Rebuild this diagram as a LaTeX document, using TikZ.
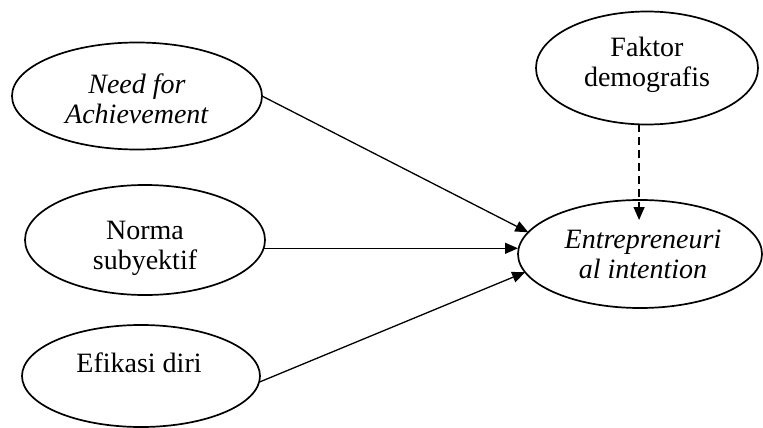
\documentclass[tikz,border=0pt]{standalone}
\usepackage{fontspec}
\setmainfont{Liberation Serif}
\usetikzlibrary{arrows.meta,shapes.geometric}
\tikzset{
  ell/.style={draw=black, line width=1.7pt, ellipse, inner sep=0pt, outer sep=0pt},
  lbl/.style={align=center, inner sep=0pt, font=\fontsize{28}{30}\selectfont},
  conn/.style={line width=1.3pt, -{Triangle[length=13pt,width=11pt]}},
}
\begin{document}
\begin{tikzpicture}[x=1pt,y=-1pt]
\useasboundingbox (0,0) rectangle (763,428);
\node[ell, minimum width=250pt, minimum height=107pt] (na) at (137,96) {};
\node[lbl] (nat) at (137,99) {\textit{Need for}\\\textit{Achievement}};
\node[ell, minimum width=240pt, minimum height=110pt] (ns) at (145,240) {};
\node[lbl] (nst) at (145,248) {Norma\\subyektif};
\node[ell, minimum width=238pt, minimum height=102pt] (ed) at (141,376) {};
\node[lbl] (edt) at (139,363) {Efikasi diri};
\node[ell, minimum width=222pt, minimum height=113pt] (fd) at (647,68) {};
\node[lbl] (fdt) at (647,65) {Faktor\\demografis};
\node[ell, minimum width=244pt, minimum height=108pt] (ei) at (640,254) {};
\node[lbl] (eit) at (643,254) {\textit{Entrepreneuri}\\\textit{al intention}};
\draw[conn] (na.east) -- (ei.169);
\draw[conn] (ns.-4) -- (ns.-4 -| ei.west);
\draw[conn] (ed.-3) -- (ei.189);
\draw[conn, dash pattern=on 8pt off 5pt] (fd.-98) -- ([yshift=-20pt]fd.-98 |- ei.north);
\end{tikzpicture}
\end{document}
